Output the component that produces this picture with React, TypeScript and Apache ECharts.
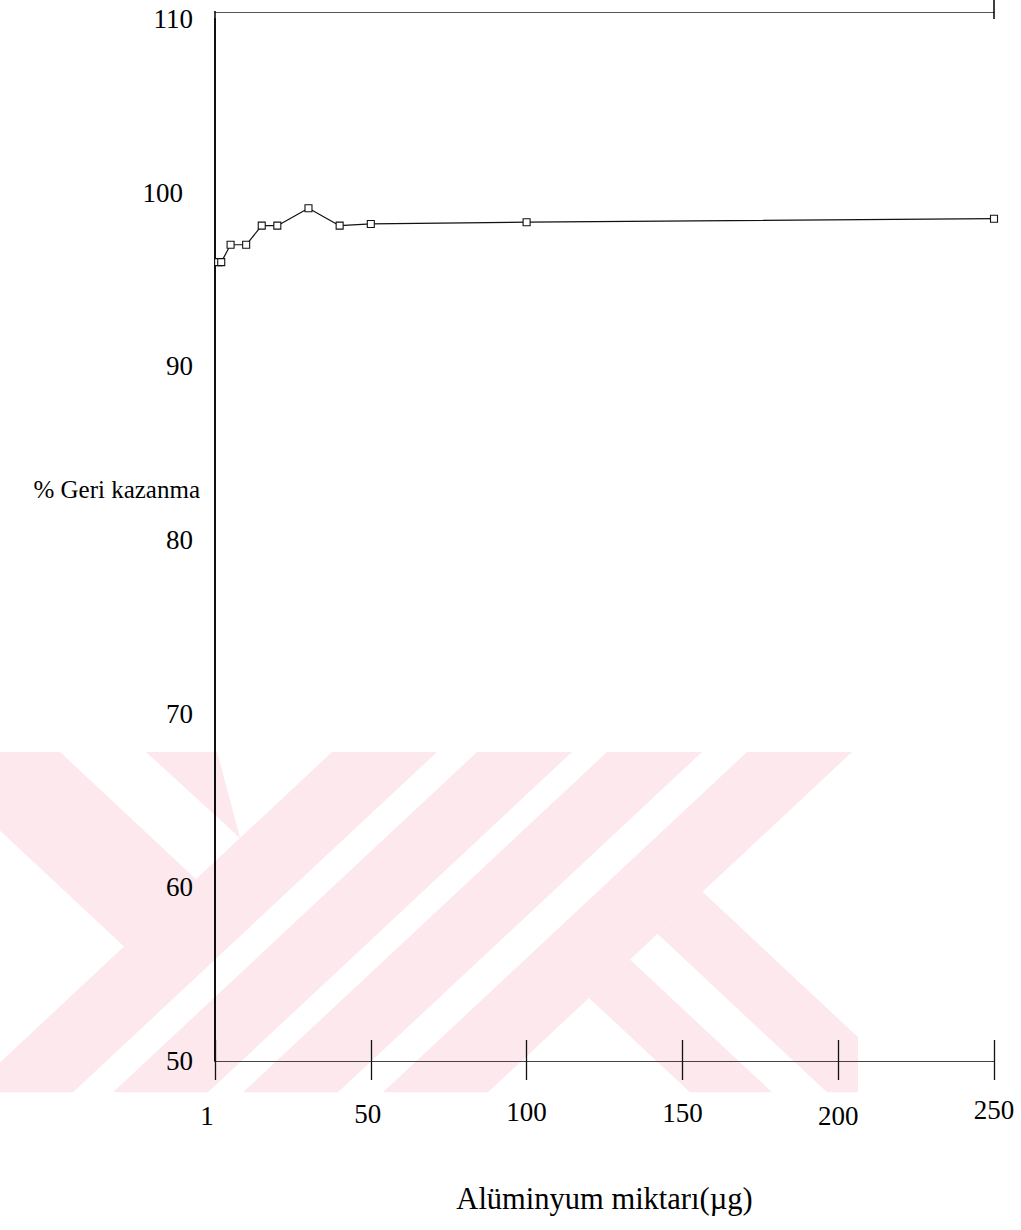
import React, { useEffect, useRef } from 'react';
import * as echarts from 'echarts';

// ---- data ----
const amounts = [1, 2, 5, 10, 15, 20, 30, 40, 50, 100, 250];
const recovery = [96.0, 96.0, 97.0, 97.0, 98.1, 98.1, 99.1, 98.1, 98.2, 98.3, 98.5];
const xTickValues = [0, 50, 100, 150, 200, 250];
const xTickLabels = ['1', '50', '100', '150', '200', '250'];
const yTickValues = [50, 60, 70, 80, 90, 100, 110];
const yAxisTitle = '% Geri kazanma';
const xAxisTitle = 'Alüminyum miktarı(µg)';

// ---- styling ----
const FONT = '"Liberation Serif", "Times New Roman", serif';
const PINK = '#fce8ed';
// per-label nudges [top padding, right padding]
const xLabelNudge: Record<string, [number, number]> = {
  '1': [12, 16], '50': [8, 6], '100': [5, 0], '150': [7, 0], '200': [13, 0], '250': [0, 0],
};

type P = [number, number];
function clipHalf(pts: P[], inside: (p: P) => boolean, inter: (a: P, b: P) => P): P[] {
  const out: P[] = [];
  for (let i = 0; i < pts.length; i++) {
    const cur = pts[i];
    const prev = pts[(i + pts.length - 1) % pts.length];
    const ci = inside(cur);
    const pi = inside(prev);
    if (ci) {
      if (!pi) out.push(inter(prev, cur));
      out.push(cur);
    } else if (pi) out.push(inter(prev, cur));
  }
  return out;
}
function clipRect(pts: P[], x0: number, y0: number, x1: number, y1: number): P[] {
  const ix = (a: P, b: P, x: number): P => [x, a[1] + ((b[1] - a[1]) * (x - a[0])) / (b[0] - a[0])];
  const iy = (a: P, b: P, y: number): P => [a[0] + ((b[0] - a[0]) * (y - a[1])) / (b[1] - a[1]), y];
  let r = clipHalf(pts, (p) => p[0] >= x0, (a, b) => ix(a, b, x0));
  r = clipHalf(r, (p) => p[0] <= x1, (a, b) => ix(a, b, x1));
  r = clipHalf(r, (p) => p[1] >= y0, (a, b) => iy(a, b, y0));
  r = clipHalf(r, (p) => p[1] <= y1, (a, b) => iy(a, b, y1));
  return r;
}
const uv = (u: number, v: number): P => [(u + v) / 2, (u - v) / 2];
const band = (u1: number, u2: number): P[] => [uv(u1, -1600), uv(u2, -1600), uv(u2, 600), uv(u1, 600)];

function watermark() {
  const shapes: P[][] = [
    [uv(400, -837), uv(400, -693), uv(1085, -693), uv(1085, -837)],
    band(1085, 1190),
    [[92, 700], [204, 700], [240, 845]],
    band(1230, 1325),
    band(1360, 1455),
    band(1500, 1605),
    [uv(1605, -290), uv(1605, -200), uv(2600, -200), uv(2600, -290)],
    [uv(1605, -427), uv(1605, -345), uv(2600, -345), uv(2600, -427)],
  ];
  const squash = (p: P): P => [p[0], 752 + (p[1] - 753) * 0.935];
  return shapes
    .map((s) => clipRect(s, 0, 753, 858, 1117).map(squash))
    .filter((s) => s.length > 2)
    .map((points) => ({
      type: 'polygon',
      silent: true,
      z: -100,
      shape: { points },
      style: { fill: PINK, stroke: 'none' },
    }));
}

export default function App() {
  const ref = useRef<HTMLDivElement>(null);
  useEffect(() => {
    if (!ref.current) return;
    const chart = echarts.init(ref.current, null, { renderer: 'svg' });
    const rich: Record<string, any> = {};
    xTickLabels.forEach((l, i) => {
      const n = xLabelNudge[l] || [0, 0];
      rich['t' + i] = {
        fontFamily: FONT, fontSize: 27, color: '#000', lineHeight: 27,
        padding: [n[0], n[1], 0, 0],
      };
    });
    rich.yn = { fontFamily: FONT, fontSize: 27, color: '#000' };
    rich.ys = { fontFamily: FONT, fontSize: 27, color: '#000', padding: [0, 10, 0, 0] };

    chart.setOption({
      animation: false,
      backgroundColor: '#fff',
      textStyle: { fontFamily: FONT },
      grid: { left: 215, right: 27, top: 19, bottom: 169, containLabel: false, outerBoundsMode: 'none' },
      graphic: [
        ...watermark(),
        {
          type: 'line', silent: true, z: 10,
          shape: { x1: 994, y1: 0, x2: 994, y2: 19 },
          style: { stroke: '#000', lineWidth: 1.5 },
        },
        {
          type: 'line', silent: true, z: 10,
          shape: { x1: 215, y1: 11, x2: 215, y2: 19 },
          style: { stroke: '#000', lineWidth: 1.5 },
        },
        {
          type: 'text', silent: true, z: 10,
          x: 200, y: 489,
          style: {
            text: yAxisTitle, fontFamily: FONT, fontSize: 25, fill: '#000',
            align: 'right', verticalAlign: 'middle',
          },
        },
      ],
      xAxis: [
        {
          type: 'value', min: 0, max: 250, interval: 50, position: 'bottom',
          axisLine: { show: true, lineStyle: { color: '#444', width: 1 } },
          axisTick: { show: true, inside: false, length: 19, lineStyle: { color: '#111', width: 1.3 } },
          axisLabel: {
            margin: 35,
            formatter: (v: number) => {
              const i = xTickValues.indexOf(v);
              return i < 0 ? '' : `{t${i}|${xTickLabels[i]}}`;
            },
            rich,
          },
          splitLine: { show: false },
          name: xAxisTitle, nameLocation: 'middle', nameGap: 122, nameMoveOverlap: false,
          nameTextStyle: { fontFamily: FONT, fontSize: 30.5, color: '#000' },
        },
        {
          type: 'value', min: 0, max: 250, interval: 50, position: 'bottom',
          axisLine: { show: false },
          axisTick: { show: true, inside: true, length: 21, lineStyle: { color: '#111', width: 1.3 } },
          axisLabel: { show: false }, splitLine: { show: false },
        },
        {
          type: 'value', min: 0, max: 250, position: 'top', offset: 7,
          axisLine: { show: true, lineStyle: { color: '#555', width: 1 } },
          axisTick: { show: false }, axisLabel: { show: false }, splitLine: { show: false },
        },
      ],
      yAxis: [
        {
          type: 'value', min: 50, max: 110, interval: 10, position: 'left',
          axisLine: { show: true, lineStyle: { color: '#000', width: 1.5 } },
          axisTick: { show: false },
          axisLabel: {
            margin: 22,
            formatter: (v: number) => (yTickValues.includes(v) ? (v === 100 ? `{ys|${v}}` : `{yn|${v}}`) : ''),
            rich,
          },
          splitLine: { show: false },
        },
        {
          type: 'value', min: 50, max: 110, interval: 10, position: 'right',
          axisLine: { show: true, lineStyle: { color: '#000', width: 1.5 } },
          axisTick: { show: false }, axisLabel: { show: false }, splitLine: { show: false },
        },
      ],
      series: [
        {
          type: 'line',
          xAxisIndex: 0, yAxisIndex: 0,
          data: amounts.map((a, i) => [a, recovery[i]]),
          symbol: 'rect', symbolSize: 7,
          itemStyle: { color: '#fff', borderColor: '#111', borderWidth: 1.1 },
          lineStyle: { color: '#111', width: 1.2 },
          z: 5,
        },
      ],
    });
    return () => chart.dispose();
  }, []);
  return (
    <div
      ref={ref}
      style={{ position: 'absolute', left: 0, top: 0, width: 1021, height: 1230, background: '#fff' }}
    />
  );
}
